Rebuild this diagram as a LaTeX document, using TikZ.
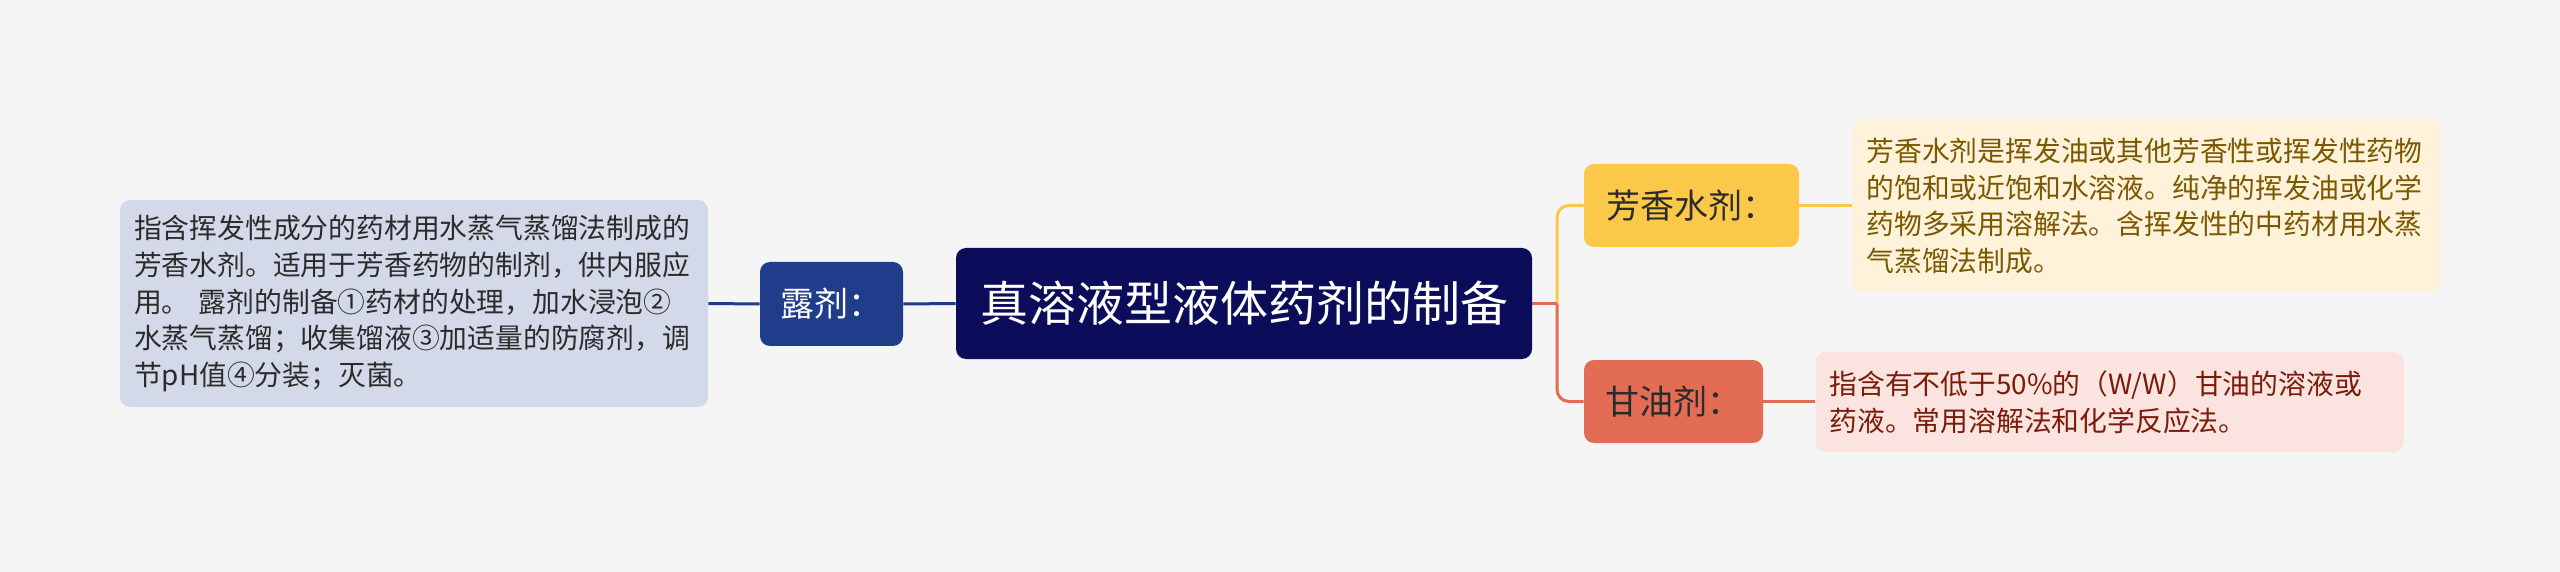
\documentclass[tikz,border=0pt]{standalone}
\usepackage{fontspec}
\setmainfont{Noto Sans CJK SC}
\definecolor{bg}{HTML}{F5F5F5}
\definecolor{navy}{HTML}{0B0D5B}
\definecolor{dblue}{HTML}{1F3D8A}
\definecolor{lboxfill}{HTML}{D3D9E8}
\definecolor{ylw}{HTML}{FCC84A}
\definecolor{ylwfill}{HTML}{FEF3DA}
\definecolor{ylwtext}{HTML}{7B5800}
\definecolor{rd}{HTML}{E36C55}
\definecolor{rdfill}{HTML}{FBE4DF}
\definecolor{rdtext}{HTML}{7A1B0C}
\definecolor{dark}{HTML}{2B2B2B}
\tikzset{
  box/.style={rounded corners=5pt, inner sep=0pt, align=center},
  lbl/.style={box, minimum height=41.5pt, font=\fontsize{17}{20}\selectfont},
  desc/.style={rounded corners=5pt, inner xsep=7pt, inner ysep=0pt, align=left,
    text width=280pt, font=\fontsize{13.9}{18.35}\selectfont},
  conn/.style={line width=1.5pt}
}
\begin{document}
\begin{tikzpicture}[x=0.5pt,y=-0.5pt]
\fill[bg] (0,0) rectangle (2560,572);
\useasboundingbox (0,0) rectangle (2560,572);

\node[box, fill=navy, text=white, minimum width=288pt, minimum height=55.5pt,
  font=\fontsize{24}{28}\selectfont] (c) at (1244,303.5) {真溶液型液体药剂的制备};

\node[lbl, fill=dblue, text=white, minimum width=71.5pt, minimum height=42pt] (lu) at (831.5,304) {露剂：};

\node[desc, fill=lboxfill, text=dark, minimum height=103.5pt] (lud) at (414,303.5)
 {指含挥发性成分的药材用水蒸气蒸馏法制成的\\芳香水剂。适用于芳香药物的制剂，供内服应\\用。 露剂的制备①药材的处理，加水浸泡②\\水蒸气蒸馏；收集馏液③加适量的防腐剂，调\\节pH值④分装；灭菌。};

\node[lbl, fill=ylw, text=dark, minimum width=107.5pt] (fx) at (1691.5,205.5) {芳香水剂：};
\node[desc, fill=ylwfill, text=ylwtext, minimum height=86pt] (fxd) at (2146.5,206)
 {芳香水剂是挥发油或其他芳香性或挥发性药物\\的饱和或近饱和水溶液。纯净的挥发油或化学\\药物多采用溶解法。含挥发性的中药材用水蒸\\气蒸馏法制成。};

\node[lbl, fill=rd, text=dark, minimum width=89.5pt] (gy) at (1673.5,401.5) {甘油剂：};
\node[desc, fill=rdfill, text=rdtext, minimum height=50pt] (gyd) at (2109.5,402)
 {指含有不低于50\%的（W/W）甘油的溶液或\\药液。常用溶解法和化学反应法。};

\coordinate (j) at (1557,303.5);

\draw[conn, dblue] (lud.east) -- (lu.west);
\draw[conn, dblue] (lu.east) -- (c.west);
\draw[conn, ylw, rounded corners=6pt] (j) |- (fx.west);
\draw[conn, ylw] (fx.east) -- (fxd.west |- fx.east);
\draw[conn, rd] (c.east) -- (j);
\draw[conn, rd, rounded corners=6pt] (j) |- (gy.west);
\draw[conn, rd] (gy.east) -- (gyd.west |- gy.east);
\end{tikzpicture}
\end{document}
